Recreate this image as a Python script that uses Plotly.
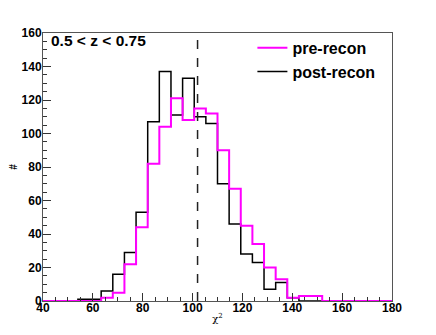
import plotly.graph_objects as go

# ---- data ----
x_min, x_max, n_bins = 40.0, 180.0, 30
post_recon = [0, 0, 0, 1, 1, 6, 16, 29, 53, 107, 137, 111, 133, 110, 106,
              70, 46, 28, 23, 7, 11, 2, 0, 0, 0, 0, 0, 0, 0, 0]
pre_recon = [0, 0, 0, 0, 0, 2, 5, 22, 44, 82, 104, 121, 108, 115, 112,
             90, 67, 45, 34, 20, 13, 2, 3, 3, 0, 0, 0, 0, 0, 0]
dof_line = 102
label_text = "0.5 < z < 0.75"
x_ticks = [40, 60, 80, 100, 120, 140, 160, 180]
y_ticks = [0, 20, 40, 60, 80, 100, 120, 140, 160]

width = (x_max - x_min) / n_bins
edges = [x_min + i * width for i in range(n_bins + 1)]


def step(vals):
    xs = [edges[0]] + edges + [edges[-1]]
    ys = [0] + list(vals) + [vals[-1], 0]
    return xs, ys


FONT = "Liberation Sans"
fig = go.Figure()
xs, ys = step(post_recon)
fig.add_trace(go.Scatter(x=xs, y=ys, mode="lines", line_shape="hv",
                         line=dict(color="#000000", width=1.5),
                         name="post-recon", legendrank=2))
xs, ys = step(pre_recon)
fig.add_trace(go.Scatter(x=xs, y=ys, mode="lines", line_shape="hv",
                         line=dict(color="#ff00ff", width=2),
                         name="pre-recon", legendrank=1))

fig.add_shape(type="line", x0=dof_line, x1=dof_line, y0=0, y1=1, yref="paper",
              line=dict(color="#222222", width=1.5, dash="dash"))

fig.add_annotation(text="<b>" + label_text + "</b>", x=0.016, y=1.012,
                   xref="paper", yref="paper", xanchor="left", yanchor="top",
                   showarrow=False, font=dict(family=FONT, size=15.5, color="black"))

fig.update_layout(
    width=428, height=327,
    margin=dict(l=35, r=44, t=25, b=34, autoexpand=False),
    paper_bgcolor="white", plot_bgcolor="white",
    font=dict(family=FONT, color="black"),
    legend=dict(x=0.60, y=1.008, xanchor="left", yanchor="top",
                bgcolor="rgba(0,0,0,0)", itemwidth=30,
                font=dict(family=FONT, size=16, color="black", weight="bold"),
                tracegroupgap=0),
    showlegend=True,
)
fig.update_xaxes(range=[x_min, x_max], tickvals=x_ticks, ticks="inside",
                 ticklen=8, tickcolor="#333", showgrid=False, zeroline=False,
                 showline=True, linecolor="#555", linewidth=1, mirror=True,
                 automargin=False, ticklabelstandoff=-4,
                 tickfont=dict(family=FONT, size=12, weight="bold"),
                 minor=dict(dtick=5, tick0=40, ticks="inside", ticklen=4, tickcolor="#333", showgrid=False),
                 title=dict(text="χ<sup>2</sup>", font=dict(family="DejaVu Serif", size=10), standoff=0))
fig.update_yaxes(range=[0, 160], tickvals=y_ticks, ticks="inside",
                 ticklen=8, tickcolor="#333", showgrid=False, zeroline=False,
                 showline=True, linecolor="#555", linewidth=1, mirror=True,
                 automargin=False, ticklabelstandoff=-2,
                 tickfont=dict(family=FONT, size=12, weight="bold"),
                 minor=dict(dtick=5, tick0=0, ticks="inside", ticklen=4, tickcolor="#333", showgrid=False),
                 title=dict(text="<b>#</b>", font=dict(family=FONT, size=10), standoff=12))

fig.write_html("out.html")
